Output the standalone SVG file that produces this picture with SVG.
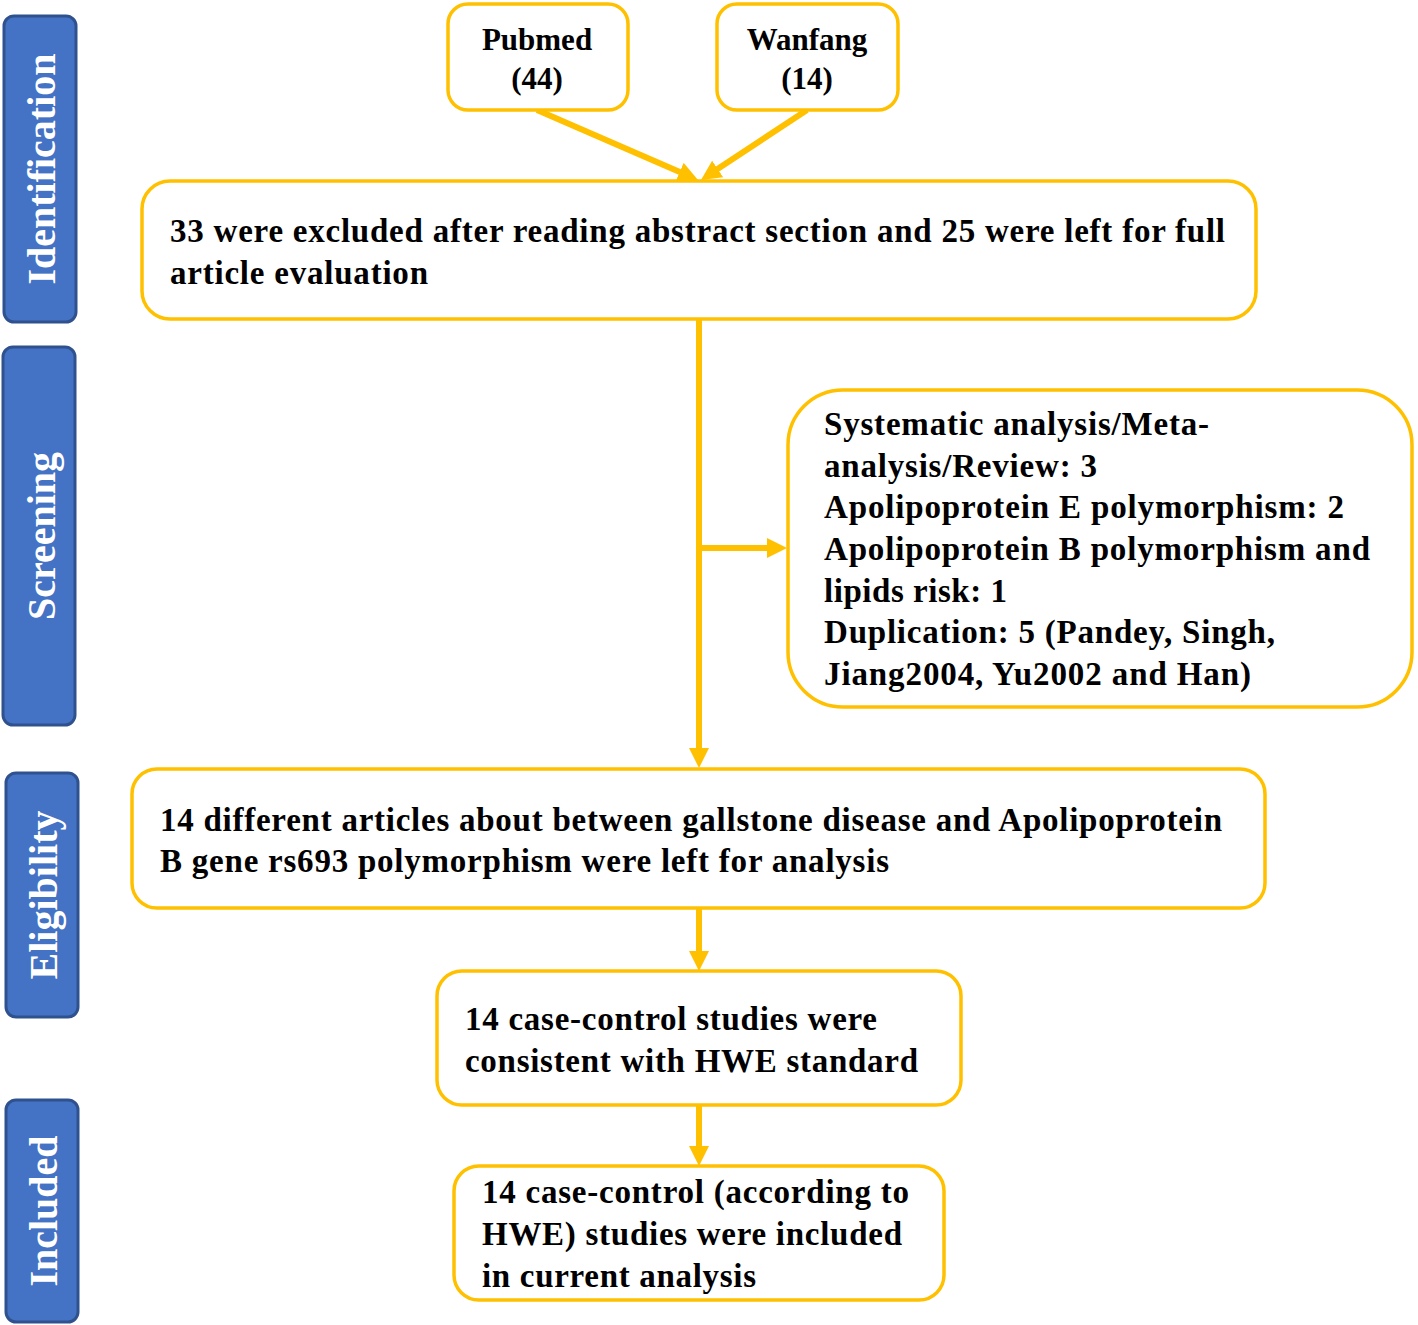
<svg xmlns="http://www.w3.org/2000/svg" width="1418" height="1325" viewBox="0 0 1418 1325">
<style>
.side{fill:#4472C4;stroke:#2F528F;stroke-width:3}
.sidet{fill:#FFFFFF;font-family:"Liberation Serif","Times New Roman",serif;font-weight:bold;font-size:40px;text-anchor:middle}
.box{fill:#FFFFFF;stroke:#FFC000;stroke-width:3.5}
.t{fill:#000000;font-family:"Liberation Serif","Times New Roman",serif;font-weight:bold;font-size:33px}
.src{font-size:31px;text-anchor:middle}
.conn{stroke:#FFC000;stroke-width:6;fill:none}
</style>
<defs>
<marker id="ah" markerUnits="userSpaceOnUse" markerWidth="20" markerHeight="20" refX="2" refY="10" orient="auto" viewBox="0 0 20 20">
<path d="M0,0 L20,10 L0,20 Z" fill="#FFC000"/>
</marker>
</defs>
<g id="stage-identification">
<rect class="side" x="4" y="16" width="72" height="306" rx="10"/>
<text class="sidet" transform="translate(55,169) rotate(-90)">Identification</text>
</g>
<g id="stage-screening">
<rect class="side" x="3" y="347" width="72" height="378" rx="10"/>
<text class="sidet" transform="translate(55,536) rotate(-90)">Screening</text>
</g>
<g id="stage-eligibility">
<rect class="side" x="6" y="773" width="72" height="244" rx="10"/>
<text class="sidet" transform="translate(57,895) rotate(-90)">Eligibility</text>
</g>
<g id="stage-included">
<rect class="side" x="6" y="1100" width="72" height="222" rx="10"/>
<text class="sidet" transform="translate(57,1211) rotate(-90)">Included</text>
</g>
<g id="connectors">
<line class="conn" x1="537" y1="110" x2="681.5" y2="172.8" marker-end="url(#ah)"/>
<line class="conn" x1="807" y1="110" x2="716" y2="170.1" marker-end="url(#ah)"/>
<line class="conn" x1="699" y1="319" x2="699" y2="750" marker-end="url(#ah)"/>
<line class="conn" x1="699" y1="548" x2="769" y2="548" marker-end="url(#ah)"/>
<line class="conn" x1="699" y1="908" x2="699" y2="953" marker-end="url(#ah)"/>
<line class="conn" x1="699" y1="1105" x2="699" y2="1148" marker-end="url(#ah)"/>
</g>
<g id="pubmed">
<rect class="box" x="448" y="4" width="180" height="106" rx="20"/>
<text class="t src" x="537" y="50">Pubmed</text>
<text class="t src" x="537" y="89">(44)</text>
</g>
<g id="wanfang">
<rect class="box" x="717" y="4" width="181" height="106" rx="20"/>
<text class="t src" x="807" y="50">Wanfang</text>
<text class="t src" x="807" y="89">(14)</text>
</g>
<g id="abstract-screen">
<rect class="box" x="142" y="181" width="1114" height="138" rx="28"/>
<text class="t" x="170" y="242" textLength="1055" lengthAdjust="spacing">33 were excluded after reading abstract section and 25 were left for full</text>
<text class="t" x="170" y="284" textLength="258" lengthAdjust="spacing">article evaluation</text>
</g>
<g id="excluded">
<rect class="box" x="788" y="390" width="624" height="317" rx="55"/>
<text class="t" x="824" y="435" textLength="385" lengthAdjust="spacing">Systematic analysis/Meta-</text>
<text class="t" x="824" y="477" textLength="273" lengthAdjust="spacing">analysis/Review: 3</text>
<text class="t" x="824" y="518" textLength="520" lengthAdjust="spacing">Apolipoprotein E polymorphism: 2</text>
<text class="t" x="824" y="560" textLength="546" lengthAdjust="spacing">Apolipoprotein B polymorphism and</text>
<text class="t" x="824" y="602" textLength="183" lengthAdjust="spacing">lipids risk: 1</text>
<text class="t" x="824" y="643" textLength="451" lengthAdjust="spacing">Duplication: 5 (Pandey, Singh,</text>
<text class="t" x="824" y="685" textLength="427" lengthAdjust="spacing">Jiang2004, Yu2002 and Han)</text>
</g>
<g id="eligible">
<rect class="box" x="132" y="769" width="1133" height="139" rx="25"/>
<text class="t" x="160" y="831" textLength="1062" lengthAdjust="spacing">14 different articles about between gallstone disease and Apolipoprotein</text>
<text class="t" x="160" y="872" textLength="729" lengthAdjust="spacing">B gene rs693 polymorphism were left for analysis</text>
</g>
<g id="hwe">
<rect class="box" x="437" y="971" width="524" height="134" rx="25"/>
<text class="t" x="465" y="1030" textLength="412" lengthAdjust="spacing">14 case-control studies were</text>
<text class="t" x="465" y="1072" textLength="453" lengthAdjust="spacing">consistent with HWE standard</text>
</g>
<g id="included">
<rect class="box" x="454" y="1166" width="490" height="134" rx="25"/>
<text class="t" x="482" y="1203" textLength="427" lengthAdjust="spacing">14 case-control (according to</text>
<text class="t" x="482" y="1245" textLength="420" lengthAdjust="spacing">HWE) studies were included</text>
<text class="t" x="482" y="1287" textLength="274" lengthAdjust="spacing">in current analysis</text>
</g>
</svg>
